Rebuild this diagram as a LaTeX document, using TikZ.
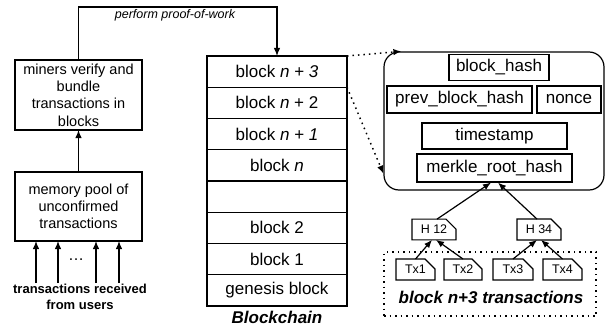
\documentclass[tikz,border=0pt]{standalone}
\usepackage{fontspec}
\setmainfont{Liberation Sans}
\usetikzlibrary{positioning, shapes.misc, arrows.meta}

\begin{document}
\begin{tikzpicture}[x=1pt, y=-1pt, >={Latex[length=8pt,width=6.5pt]}, line width=1.2pt]
    \tikzstyle{box} = [shape=rectangle, draw, minimum width=127pt, inner sep=1pt, outer sep=0pt, align=center, font=\fontsize{14.5}{17.3}\selectfont]
    \tikzstyle{row} = [shape=rectangle, draw, minimum width=140pt, minimum height=31.25pt, outer sep=0pt, font=\fontsize{17}{20}\selectfont]
    \tikzstyle{field} = [shape=rectangle, draw, minimum height=26pt, inner sep=1pt, font=\fontsize{17}{20}\selectfont]
    \tikzstyle{hash} = [shape=chamfered rectangle, chamfered rectangle corners=north east, chamfered rectangle xsep=5pt, chamfered rectangle ysep=5pt, draw, inner sep=1pt, outer sep=0pt, font=\fontsize{12.5}{15}\selectfont]
    \tikzstyle{dots} = [dash pattern=on 1.5pt off 4pt, line width=1.5pt]
    \useasboundingbox (0,0) rectangle (606,327);

    % miners and memory pool
    \node (miners) [box, minimum height=70pt] at (78.5,95) {miners verify and\\bundle\\transactions in\\blocks};
    \node (pool) [box, minimum height=69pt, below=42pt of miners] {memory pool of\\unconfirmed\\transactions};
    \node (dots) at (76,260) {\fontsize{16}{18}\selectfont\dots};
    \node (users) [align=center, font=\fontsize{13}{16}\selectfont\bfseries] at (80,297) {transactions received\\from users};
    \foreach \x in {36,58,96,119}
        \draw [->] (\x,283) -- (\x,283 |- pool.south);
    \draw [->] (pool.north) -- (miners.south);

    % blockchain
    \node (b3) [row] at (277,71.6) {block \textit{n + 3}};
    \node (b2) [row, below=0pt of b3] {block \textit{n} + 2};
    \node (b1) [row, below=0pt of b2] {block \textit{n + 1}};
    \node (bn) [row, below=0pt of b1] {block \textit{n}};
    \node (bx) [row, below=0pt of bn] {};
    \node (btwo) [row, below=0pt of bx] {block 2};
    \node (bone) [row, below=0pt of btwo] {block 1};
    \node (bgen) [row, below=0pt of bone] {genesis block};
    \node (chain) [font=\fontsize{17}{20}\selectfont\bfseries\itshape, inner sep=1pt] at (277,317.5) {Blockchain};

    % proof of work
    \draw [->] (miners.north) -- ++(0,-53) -| (b3.north);
    \node (pow) [font=\fontsize{12.5}{15}\selectfont\itshape] at (175,15) {perform proof-of-work};

    % block header
    \node (header) [draw, rounded corners=15pt, minimum width=220pt, minimum height=138pt] at (494,121) {};
    \node (bhash) [field, minimum width=100pt] at (499,67.5) {block\_hash};
    \node (prev) [field, minimum width=145pt, minimum height=27pt] at (459.5,99.5) {prev\_block\_hash};
    \node (nonce) [field, minimum width=64pt, minimum height=27pt] at (569,99.5) {nonce};
    \node (time) [field, minimum width=145pt] at (494.5,136) {timestamp};
    \node (merkle) [field, minimum width=155pt, minimum height=28pt] at (494.5,168) {merkle\_root\_hash};

    \draw [->, dots] (b3.north east) -- ([xshift=18pt]header.north west);
    \draw [->, dots] (b2.north east) -- ([yshift=17pt]header.south west);

    % merkle tree
    \node (h12) [hash, minimum width=44pt, minimum height=19pt] at (434,229.5) {H 12};
    \node (h34) [hash, minimum width=44pt, minimum height=19pt] at (539,229.5) {H 34};
    \node (tx1) [hash, minimum width=39pt, minimum height=21pt] at (415.5,269.5) {Tx1};
    \node (tx2) [hash, minimum width=38pt, minimum height=21pt] at (463,269.5) {Tx2};
    \node (tx3) [hash, minimum width=40pt, minimum height=21pt] at (513,269.5) {Tx3};
    \node (tx4) [hash, minimum width=39pt, minimum height=21pt] at (562.5,269.5) {Tx4};
    \node (group) [draw, dots, minimum width=212pt, minimum height=64pt] at (490,284) {};
    \node (glabel) [font=\fontsize{17}{20}\selectfont\bfseries\itshape] at (491,297) {block n+3 transactions};

    \draw [->] ([xshift=3pt]h12.north) -- ([xshift=-3.5pt]merkle.south);
    \draw [->] ([xshift=-2pt]h34.north) -- ([xshift=3.5pt]merkle.south);
    \draw [->] (tx1.north) -- ([xshift=-2pt]h12.south);
    \draw [->] (tx2.north) -- ([xshift=2pt]h12.south);
    \draw [->] (tx3.north) -- ([xshift=-2pt]h34.south);
    \draw [->] (tx4.north) -- ([xshift=2pt]h34.south);
\end{tikzpicture}
\end{document}
